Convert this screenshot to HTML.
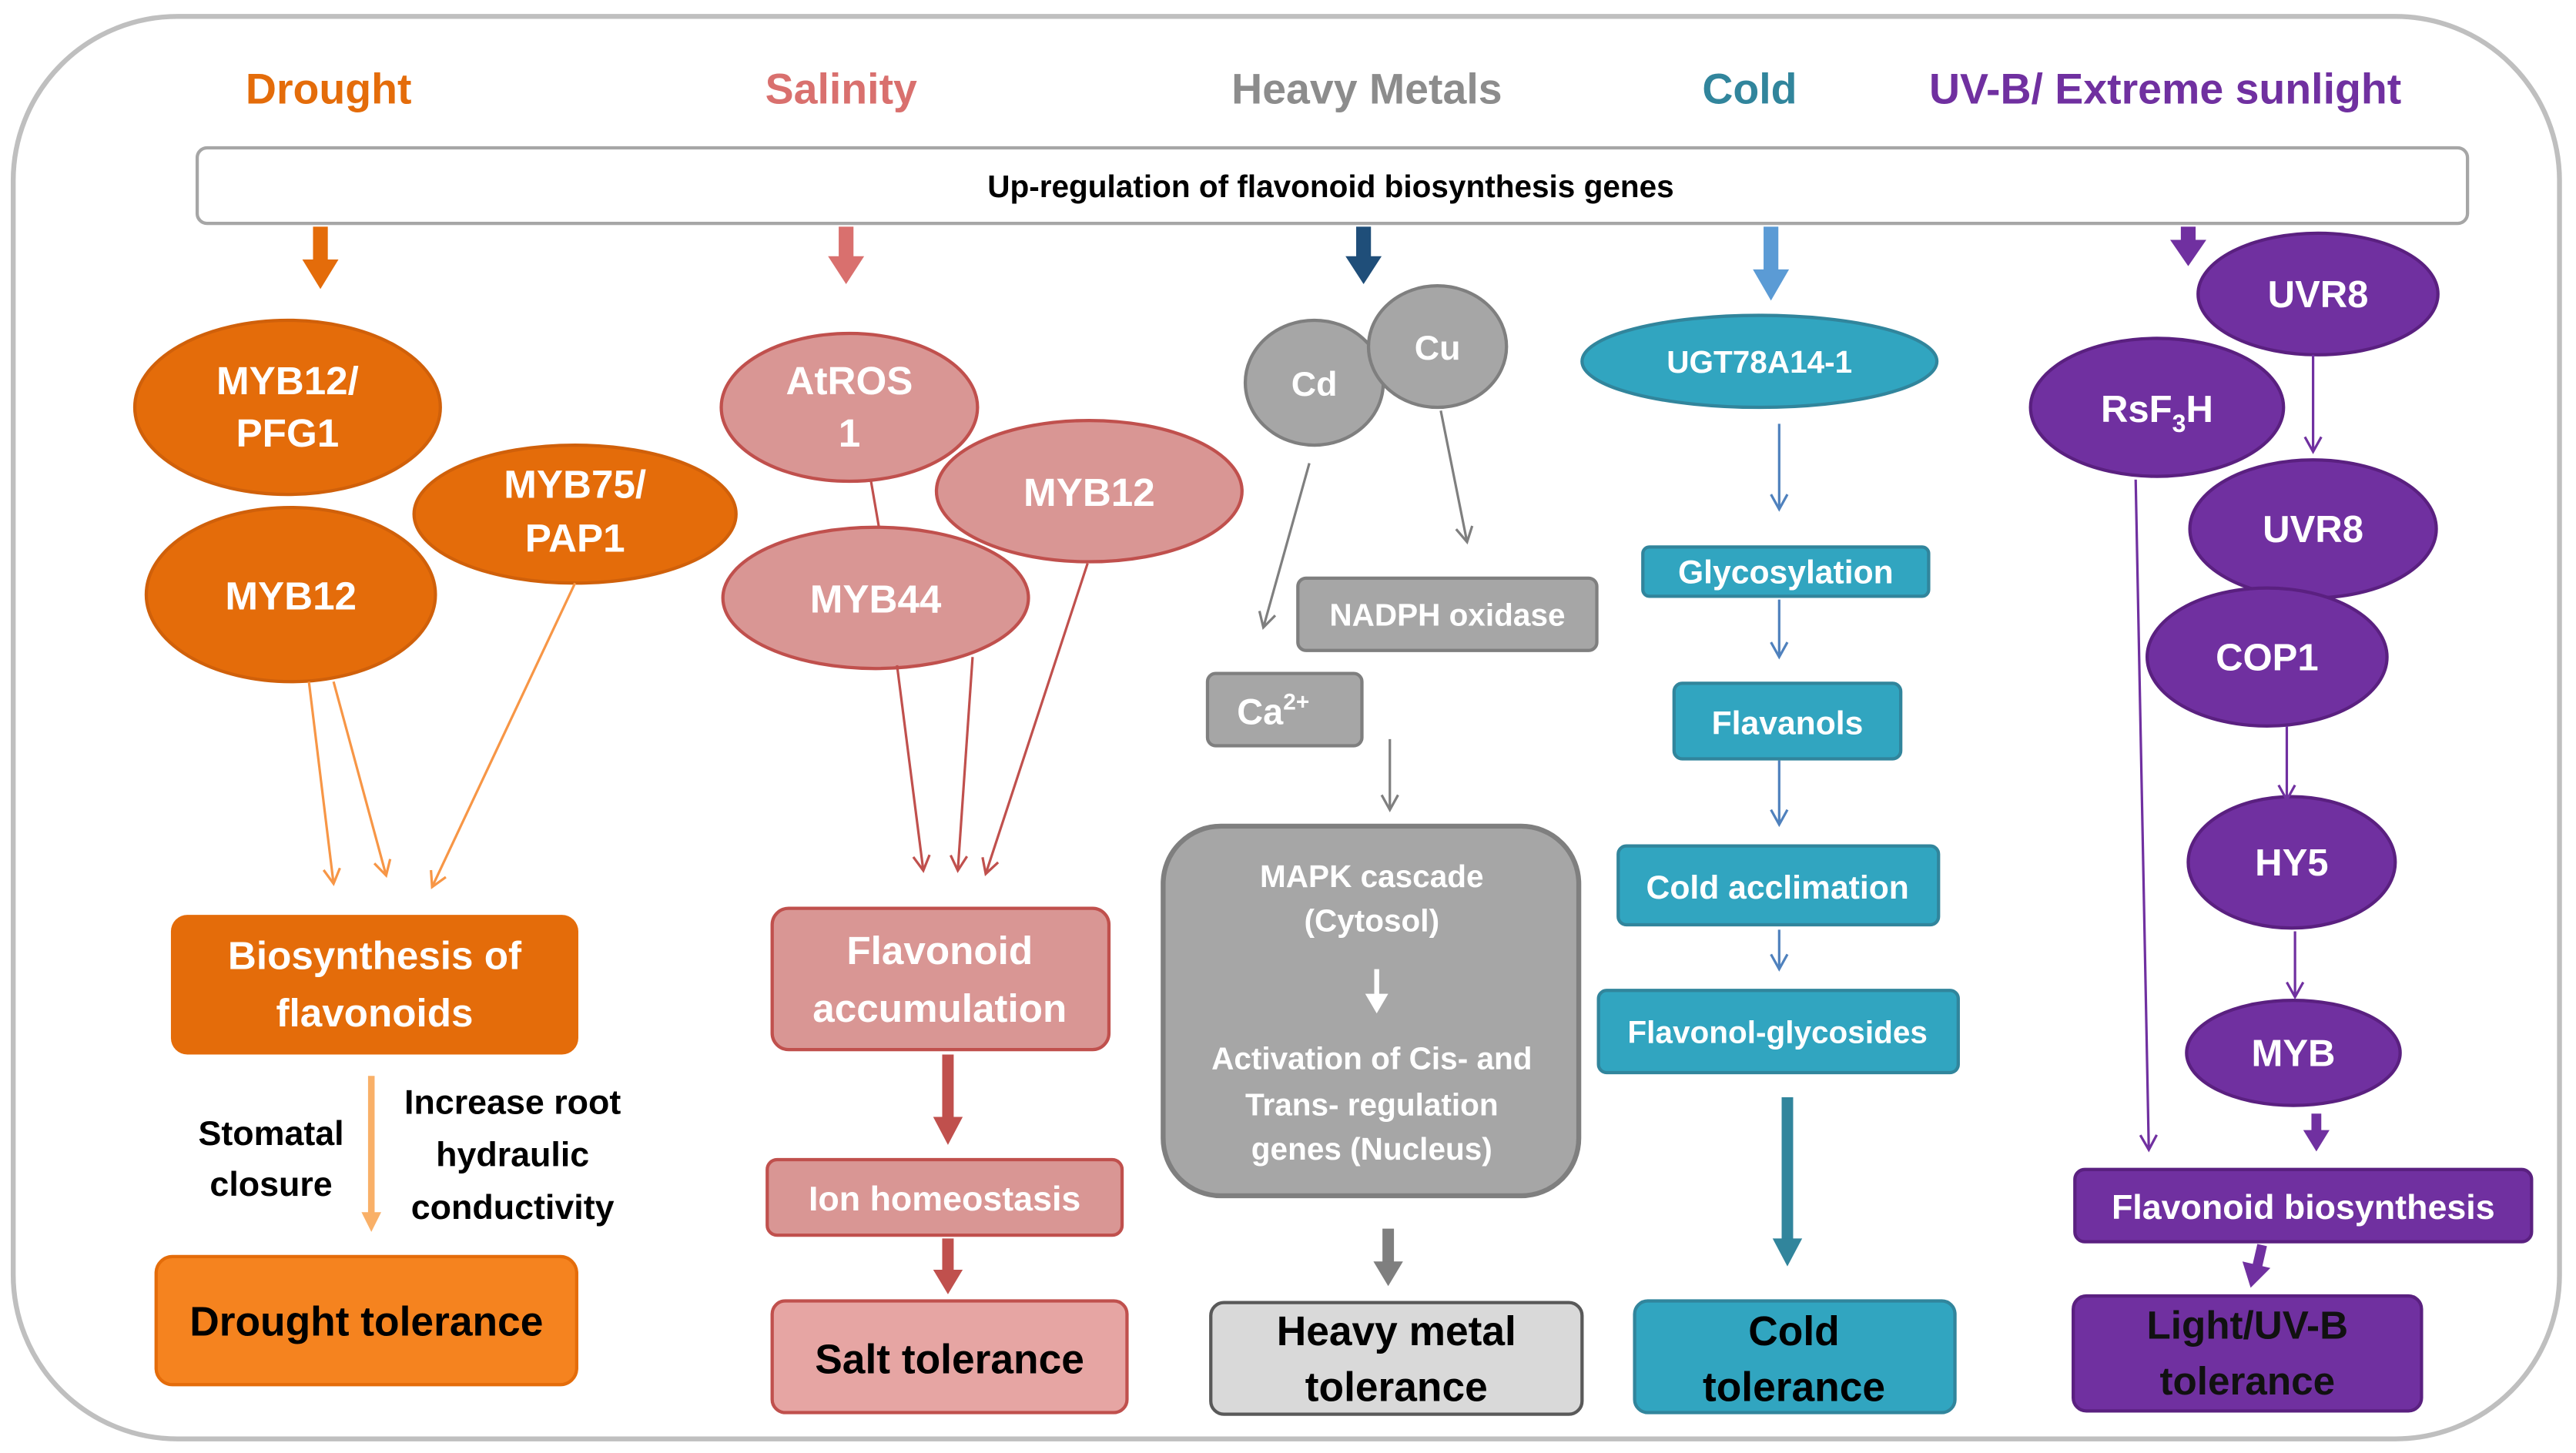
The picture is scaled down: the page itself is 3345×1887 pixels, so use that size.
<!DOCTYPE html>
<html><head><meta charset="utf-8"><style>
html,body{margin:0;padding:0;background:#fff;}
svg{display:block}
text{font-family:"Liberation Sans",sans-serif;font-weight:bold;text-anchor:middle;}
</style></head><body>
<svg width="3345" height="1887" viewBox="0 0 1568 884.6" xmlns="http://www.w3.org/2000/svg">
<defs>
<marker id="o" markerWidth="12" markerHeight="12" refX="10" refY="6" orient="auto" markerUnits="userSpaceOnUse"><path d="M1,1 L10,6 L1,11" fill="none" stroke="#F79646" stroke-width="1.5"/></marker>
<marker id="p" markerWidth="12" markerHeight="12" refX="10" refY="6" orient="auto" markerUnits="userSpaceOnUse"><path d="M1,1 L10,6 L1,11" fill="none" stroke="#C0504D" stroke-width="1.5"/></marker>
<marker id="g" markerWidth="12" markerHeight="12" refX="10" refY="6" orient="auto" markerUnits="userSpaceOnUse"><path d="M1,1 L10,6 L1,11" fill="none" stroke="#7F7F7F" stroke-width="1.5"/></marker>
<marker id="b" markerWidth="12" markerHeight="12" refX="10" refY="6" orient="auto" markerUnits="userSpaceOnUse"><path d="M1,1 L10,6 L1,11" fill="none" stroke="#4F81BD" stroke-width="1.5"/></marker>
<marker id="u" markerWidth="12" markerHeight="12" refX="10" refY="6" orient="auto" markerUnits="userSpaceOnUse"><path d="M1,1 L10,6 L1,11" fill="none" stroke="#7030A0" stroke-width="1.5"/></marker>
</defs>
<rect x="8" y="10" width="1550" height="866" rx="100" fill="#fff" stroke="#BFBFBF" stroke-width="3"/>
<g font-size="26">
<text x="200" y="63" fill="#E46C0A">Drought</text>
<text x="512" y="63" fill="#D9706E">Salinity</text>
<text x="832" y="63" fill="#8C8C8C">Heavy Metals</text>
<text x="1065" y="63" fill="#31859C">Cold</text>
<text x="1318" y="63" fill="#7030A0">UV-B/ Extreme sunlight</text>
</g>
<rect x="120" y="90" width="1382" height="46" rx="6" fill="#fff" stroke="#A6A6A6" stroke-width="2"/>
<text x="810" y="120" font-size="19" fill="#000">Up-regulation of flavonoid biosynthesis genes</text>

<!-- thick top arrows -->
<g>
<line x1="195" y1="138" x2="195" y2="160" stroke="#E46C0A" stroke-width="9"/><polygon points="184,158 206,158 195,176" fill="#E46C0A"/>
<line x1="515" y1="138" x2="515" y2="158" stroke="#D9706E" stroke-width="9"/><polygon points="504,156 526,156 515,173" fill="#D9706E"/>
<line x1="830" y1="138" x2="830" y2="158" stroke="#1F4E79" stroke-width="9"/><polygon points="819,156 841,156 830,173" fill="#1F4E79"/>
<line x1="1078" y1="138" x2="1078" y2="166" stroke="#5B9BD5" stroke-width="9"/><polygon points="1067,164 1089,164 1078,183" fill="#5B9BD5"/>
<line x1="1332" y1="138" x2="1332" y2="148" stroke="#7030A0" stroke-width="9"/><polygon points="1321,146 1343,146 1332,162" fill="#7030A0"/>
</g>

<!-- Drought -->
<g fill="#E46C0A" stroke="#D0600A" stroke-width="2">
<ellipse cx="175" cy="248" rx="93" ry="53"/>
<ellipse cx="350" cy="313" rx="98" ry="42"/>
<ellipse cx="177" cy="362" rx="88" ry="53"/>
</g>
<g fill="#fff" font-size="24">
<text x="175" y="240">MYB12/</text><text x="175" y="272">PFG1</text>
<text x="350" y="303">MYB75/</text><text x="350" y="336">PAP1</text>
<text x="177" y="371">MYB12</text>
</g>
<g stroke="#F79646" stroke-width="1.5" marker-end="url(#o)">
<line x1="188" y1="415" x2="203" y2="538"/>
<line x1="203" y1="415" x2="235" y2="533"/>
<line x1="350" y1="355" x2="263" y2="540"/>
</g>
<rect x="104" y="557" width="248" height="85" rx="10" fill="#E46C0A"/>
<g fill="#fff" font-size="24"><text x="228" y="590">Biosynthesis of</text><text x="228" y="625">flavonoids</text></g>
<line x1="226" y1="655" x2="226" y2="740" stroke="#F9B068" stroke-width="4"/><polygon points="220,738 232,738 226,750" fill="#F9B068"/>
<g fill="#000" font-size="21">
<text x="165" y="697">Stomatal</text><text x="165" y="728">closure</text>
<text x="312" y="678">Increase root</text><text x="312" y="710">hydraulic</text><text x="312" y="742">conductivity</text>
</g>
<rect x="95" y="765" width="256" height="78" rx="10" fill="#F5831F" stroke="#E46C0A" stroke-width="2"/>
<text x="223" y="813" font-size="25" fill="#000">Drought tolerance</text>

<!-- Salinity -->
<g fill="#D99694" stroke="#C0504D" stroke-width="2">
<ellipse cx="517" cy="248" rx="78" ry="45"/>
<ellipse cx="663" cy="299" rx="93" ry="43"/>
<ellipse cx="533" cy="364" rx="93" ry="43"/>
</g>
<line x1="530" y1="292" x2="535" y2="321" stroke="#C0504D" stroke-width="1.5"/>
<g fill="#fff" font-size="24">
<text x="517" y="240">AtROS</text><text x="517" y="272">1</text>
<text x="663" y="308">MYB12</text>
<text x="533" y="373">MYB44</text>
</g>
<g stroke="#C0504D" stroke-width="1.5" marker-end="url(#p)">
<line x1="546" y1="405" x2="562" y2="530"/>
<line x1="592" y1="400" x2="583" y2="530"/>
<line x1="662" y1="343" x2="600" y2="532"/>
</g>
<rect x="470" y="553" width="205" height="86" rx="10" fill="#D99694" stroke="#C0504D" stroke-width="2"/>
<g fill="#fff" font-size="24"><text x="572" y="587">Flavonoid</text><text x="572" y="622">accumulation</text></g>
<line x1="577" y1="642" x2="577" y2="682" stroke="#C0504D" stroke-width="7"/><polygon points="568,680 586,680 577,697" fill="#C0504D"/>
<rect x="467" y="706" width="216" height="46" rx="6" fill="#D99694" stroke="#C0504D" stroke-width="2"/>
<text x="575" y="737" font-size="21" fill="#fff">Ion homeostasis</text>
<line x1="577" y1="754" x2="577" y2="775" stroke="#C0504D" stroke-width="7"/><polygon points="568,773 586,773 577,788" fill="#C0504D"/>
<rect x="470" y="792" width="216" height="68" rx="8" fill="#E6A5A3" stroke="#C0504D" stroke-width="2"/>
<text x="578" y="836" font-size="25" fill="#000">Salt tolerance</text>

<!-- Heavy metals -->
<g fill="#A6A6A6" stroke="#7F7F7F" stroke-width="2">
<ellipse cx="800" cy="233" rx="42" ry="38"/>
<ellipse cx="875" cy="211" rx="42" ry="37"/>
</g>
<g fill="#fff" font-size="21"><text x="800" y="241">Cd</text><text x="875" y="219">Cu</text></g>
<g stroke="#7F7F7F" stroke-width="1.5" marker-end="url(#g)">
<line x1="797" y1="282" x2="769" y2="382"/>
<line x1="877" y1="250" x2="893" y2="330"/>
<line x1="846" y1="450" x2="846" y2="493"/>
</g>
<rect x="790" y="352" width="182" height="44" rx="5" fill="#A6A6A6" stroke="#7F7F7F" stroke-width="2"/>
<text x="881" y="381" font-size="19" fill="#fff">NADPH oxidase</text>
<rect x="735" y="410" width="94" height="44" rx="5" fill="#A6A6A6" stroke="#7F7F7F" stroke-width="2"/>
<text x="775" y="441" font-size="22" fill="#fff" font-weight="normal">Ca<tspan font-size="14" dy="-9">2+</tspan></text>
<rect x="708" y="503" width="253" height="225" rx="35" fill="#A6A6A6" stroke="#7F7F7F" stroke-width="3"/>
<g fill="#fff" font-size="19">
<text x="835" y="540">MAPK cascade</text><text x="835" y="567">(Cytosol)</text>
<text x="835" y="651">Activation of Cis- and</text><text x="835" y="679">Trans- regulation</text><text x="835" y="706">genes (Nucleus)</text>
</g>
<line x1="838" y1="590" x2="838" y2="612" stroke="#fff" stroke-width="3"/><polygon points="831,605 845,605 838,617" fill="#fff"/>
<line x1="845" y1="748" x2="845" y2="770" stroke="#7F7F7F" stroke-width="7"/><polygon points="836,768 854,768 845,783" fill="#7F7F7F"/>
<rect x="737" y="793" width="226" height="68" rx="8" fill="#D9D9D9" stroke="#595959" stroke-width="2"/>
<g fill="#000" font-size="25"><text x="850" y="819">Heavy metal</text><text x="850" y="853">tolerance</text></g>

<!-- Cold -->
<ellipse cx="1071" cy="220" rx="108" ry="28" fill="#31A5C0" stroke="#31859C" stroke-width="2"/>
<text x="1071" y="227" font-size="19" fill="#fff">UGT78A14-1</text>
<g stroke="#4F81BD" stroke-width="1.5" marker-end="url(#b)">
<line x1="1083" y1="258" x2="1083" y2="310"/>
<line x1="1083" y1="365" x2="1083" y2="400"/>
<line x1="1083" y1="463" x2="1083" y2="502"/>
<line x1="1083" y1="566" x2="1083" y2="590"/>
</g>
<g fill="#31A5C0" stroke="#31859C" stroke-width="2">
<rect x="1000" y="333" width="174" height="30" rx="4"/>
<rect x="1019" y="416" width="138" height="46" rx="5"/>
<rect x="985" y="515" width="195" height="48" rx="5"/>
<rect x="973" y="603" width="219" height="50" rx="5"/>
</g>
<g fill="#fff" font-size="20">
<text x="1087" y="355">Glycosylation</text>
<text x="1088" y="447">Flavanols</text>
<text x="1082" y="547">Cold acclimation</text>
<text x="1082" y="635" font-size="19">Flavonol-glycosides</text>
</g>
<line x1="1088" y1="668" x2="1088" y2="756" stroke="#31859C" stroke-width="7"/><polygon points="1079,754 1097,754 1088,771" fill="#31859C"/>
<rect x="995" y="792" width="195" height="68" rx="8" fill="#31A5C0" stroke="#31859C" stroke-width="2"/>
<g fill="#000" font-size="25"><text x="1092" y="819">Cold</text><text x="1092" y="853">tolerance</text></g>

<!-- UV-B -->
<g fill="#7030A0" stroke="#5A2080" stroke-width="2">
<ellipse cx="1411" cy="179" rx="73" ry="37"/>
<ellipse cx="1313" cy="248" rx="77" ry="42"/>
<ellipse cx="1408" cy="322" rx="75" ry="42"/>
<ellipse cx="1380" cy="400" rx="73" ry="42"/>
<ellipse cx="1395" cy="525" rx="63" ry="40"/>
<ellipse cx="1396" cy="641" rx="65" ry="32"/>
</g>
<g fill="#fff" font-size="23" font-weight="normal">
<text x="1411" y="187">UVR8</text>
<text x="1313" y="257">RsF<tspan font-size="15" dy="6">3</tspan><tspan dy="-6">H</tspan></text>
<text x="1408" y="330">UVR8</text>
<text x="1380" y="408">COP1</text>
<text x="1395" y="533">HY5</text>
<text x="1396" y="649">MYB</text>
</g>
<g stroke="#7030A0" stroke-width="1.5" marker-end="url(#u)">
<line x1="1408" y1="216" x2="1408" y2="275"/>
<line x1="1300" y1="292" x2="1308" y2="700"/>
<line x1="1392" y1="442" x2="1392" y2="487"/>
<line x1="1397" y1="567" x2="1397" y2="607"/>
</g>
<line x1="1410" y1="678" x2="1410" y2="690" stroke="#7030A0" stroke-width="6"/><polygon points="1402,688 1418,688 1410,701" fill="#7030A0"/>
<rect x="1263" y="712" width="278" height="44" rx="6" fill="#7030A0" stroke="#5A2080" stroke-width="2"/>
<text x="1402" y="742" font-size="21" fill="#fff">Flavonoid biosynthesis</text>
<line x1="1377" y1="758" x2="1374" y2="771" stroke="#7030A0" stroke-width="6"/><polygon points="1365,768 1382,772 1370,784" fill="#7030A0"/>
<rect x="1262" y="789" width="212" height="70" rx="8" fill="#7030A0" stroke="#5A2080" stroke-width="2"/>
<g fill="#111" font-size="24"><text x="1368" y="815">Light/UV-B</text><text x="1368" y="849">tolerance</text></g>
</svg>
</body></html>
